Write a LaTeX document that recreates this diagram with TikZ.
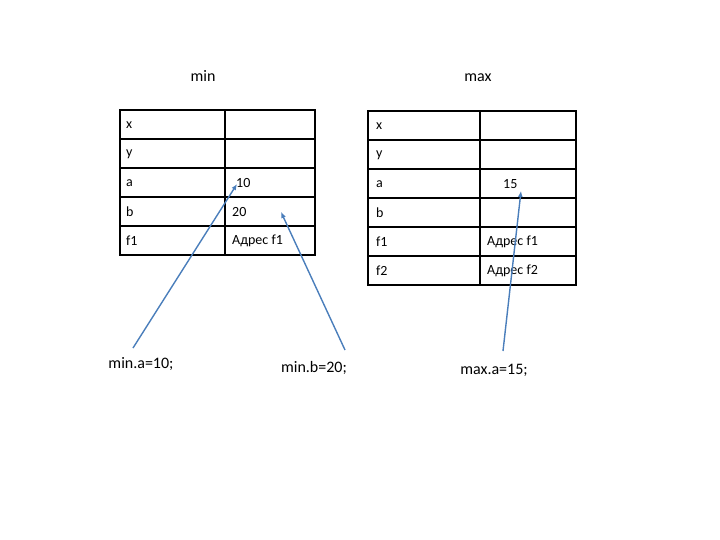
\documentclass[tikz,border=0pt]{standalone}
\usepackage{fontspec}
\usetikzlibrary{arrows.meta}
\setmainfont{Carlito}
\definecolor{arrc}{HTML}{4A7EBB}
\begin{document}
\begin{tikzpicture}[x=1pt,y=-1pt,
  cell/.style={draw,line width=1.6pt},
  lbl/.style={font=\fontsize{14}{16}\selectfont,anchor=west,inner sep=0},
  big/.style={font=\fontsize{16}{18}\selectfont,inner sep=0},
  arr/.style={draw=arrc,line width=1.4pt,-{Latex[length=6pt,width=5pt]}}]
\useasboundingbox (0,0) rectangle (720,540);
% left table
\foreach \y in {110,139,168,197,226}{
  \draw[cell] (120,\y) rectangle (225,\y+29);
  \draw[cell] (225,\y) rectangle (315,\y+29);}
% right table
\foreach \y in {111,140,169,198,227,256}{
  \draw[cell] (368,\y) rectangle (480,\y+29);
  \draw[cell] (480,\y) rectangle (576,\y+29);}
\node[big] (tmin) at (203,76) {min};
\node[big] (tmax) at (478,78) {max};
\node[lbl] (lx) at (126,125) {x};
\node[lbl] (ly) at (126,154) {y};
\node[lbl] (la) at (126,183) {a};
\node[lbl] (lb) at (126,212) {b};
\node[lbl] (lf) at (126,241) {f1};
\node[lbl] (v10) at (236,183) {10};
\node[lbl] (v20) at (232,212) {20};
\node[lbl] (vf1) at (232,241) {Адрес f1};
\node[lbl] (rx) at (376,126) {x};
\node[lbl] (ry) at (376,155) {y};
\node[lbl] (ra) at (376,184) {a};
\node[lbl] (rb) at (376,213) {b};
\node[lbl] (rf1) at (376,242) {f1};
\node[lbl] (rf2) at (376,271) {f2};
\node[lbl] (v15) at (503,184) {15};
\node[lbl] (wf1) at (487,242) {Адрес f1};
\node[lbl] (wf2) at (487,271) {Адрес f2};
\node[big] (ma) at (141,364) {min.a=10;};
\node[big] (mb) at (314,368) {min.b=20;};
\node[big] (xa) at (494,370) {max.a=15;};
\coordinate (pa) at (237,184);
\coordinate (pb) at (281,212);
\coordinate (pc) at (521,191);
\coordinate (sa) at (133,348);
\coordinate (sb) at (345,350);
\coordinate (sc) at (503,351);
\draw[arr] (sa) -- (pa);
\draw[arr] (sb) -- (pb);
\draw[arr] (sc) -- (pc);
\end{tikzpicture}
\end{document}
